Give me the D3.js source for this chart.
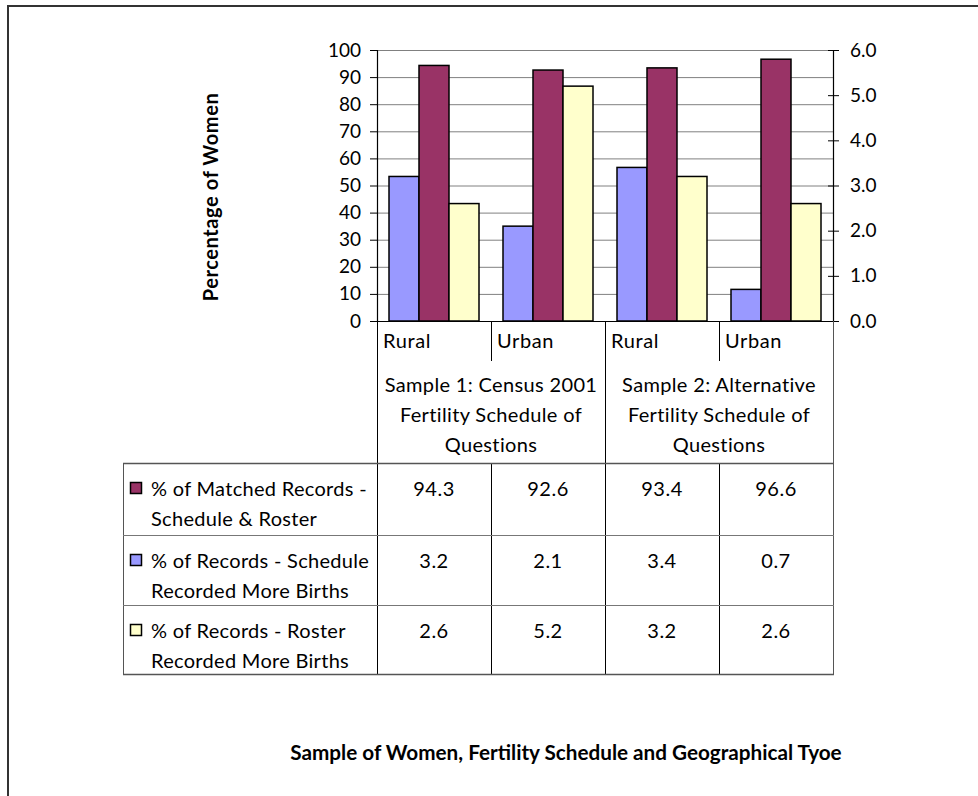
<!DOCTYPE html>
<html>
<head>
<meta charset="utf-8">
<script src="https://cdn.jsdelivr.net/npm/d3@7"></script>
<style>
  html, body { margin: 0; padding: 0; background: #fff; }
  svg { display: block; }
  text { font-family: Lato, "Open Sans", sans-serif; fill: #000; }
</style>
</head>
<body>
<svg id="chart" width="978" height="796"></svg>
<script>
// ---------- data ----------
const categories = ["Rural", "Urban", "Rural", "Urban"];
const groupLabels = [
  ["Sample 1: Census 2001", "Fertility Schedule of", "Questions"],
  ["Sample 2: Alternative", "Fertility Schedule of", "Questions"]
];
const matchedRecords = [94.3, 92.6, 93.4, 96.6];      // primary axis (%)
const scheduleMoreBirths = [3.2, 2.1, 3.4, 0.7];      // secondary axis
const rosterMoreBirths = [2.6, 5.2, 3.2, 2.6];        // secondary axis
const leftTicks = [0, 10, 20, 30, 40, 50, 60, 70, 80, 90, 100];
const rightTicks = [0, 1, 2, 3, 4, 5, 6];
const seriesNames = [
  ["% of Matched Records -", "Schedule & Roster"],
  ["% of Records - Schedule", "Recorded More Births"],
  ["% of Records - Roster", "Recorded More Births"]
];
const yTitle = "Percentage of Women";
const xTitle = "Sample of Women, Fertility Schedule and Geographical Tyoe";

// ---------- styles ----------
const colors = { matched: "#993366", schedule: "#9999FF", roster: "#FFFFCC" };

const svg = d3.select("#chart");

// outer frame
svg.append("rect").attr("x", 8).attr("y", 6).attr("width", 1100).attr("height", 1000)
  .attr("fill", "none").attr("stroke", "#333").attr("stroke-width", 2);

const plot = { left: 377, right: 833, top: 50, bottom: 321 };

const x = d3.scaleBand().domain(d3.range(categories.length))
  .range([plot.left, plot.right]).paddingInner(0).paddingOuter(0);
const xSub = d3.scaleBand().domain(["schedule", "matched", "roster"])
  .range([0, x.bandwidth()]).paddingInner(0).paddingOuter(0.4);
const yL = d3.scaleLinear().domain([0, 100]).range([plot.bottom, plot.top]);
const yR = d3.scaleLinear().domain([0, 6]).range([plot.bottom, plot.top]);

// gridlines
svg.append("g").selectAll("line").data(leftTicks.slice(1)).join("line")
  .attr("x1", plot.left).attr("x2", plot.right)
  .attr("y1", d => yL(d) + 0.5).attr("y2", d => yL(d) + 0.5)
  .attr("stroke", "#808080").attr("stroke-width", 1);

// bars
const bars = [];
categories.forEach((c, i) => {
  bars.push({ i, key: "schedule", y: yR(scheduleMoreBirths[i]) });
  bars.push({ i, key: "matched", y: yL(matchedRecords[i]) });
  bars.push({ i, key: "roster", y: yR(rosterMoreBirths[i]) });
});
svg.append("g").selectAll("rect").data(bars).join("rect")
  .attr("x", d => x(d.i) + xSub(d.key))
  .attr("width", xSub.bandwidth())
  .attr("y", d => d.y)
  .attr("height", d => plot.bottom - d.y)
  .attr("fill", d => colors[d.key])
  .attr("stroke", "#000").attr("stroke-width", 1.5);

// left axis
const axL = svg.append("g").attr("transform", `translate(${plot.left},0)`)
  .call(d3.axisLeft(yL).tickValues(leftTicks).tickSize(7).tickPadding(9).tickFormat(d3.format("d")));
axL.select(".domain").attr("stroke", "#000").attr("stroke-width", 1.2);
axL.selectAll(".tick line").attr("stroke", "#000");
axL.selectAll("text").attr("font-size", 19).attr("font-family", "Lato, sans-serif").attr("fill", "#000");

// right axis
const axR = svg.append("g").attr("transform", `translate(${plot.right},0)`)
  .call(d3.axisRight(yR).tickValues(rightTicks).tickSizeInner(6).tickSizeOuter(0).tickPadding(11).tickFormat(d3.format(".1f")));
axR.select(".domain").attr("stroke", "#000").attr("stroke-width", 1.2);
axR.selectAll(".tick line").attr("x1", -5).attr("stroke", "#000");
axR.selectAll("text").attr("font-size", 19).attr("font-family", "Lato, sans-serif").attr("fill", "#000");

// x baseline
svg.append("line").attr("x1", plot.left - 7).attr("x2", plot.right + 6)
  .attr("y1", plot.bottom + 0.5).attr("y2", plot.bottom + 0.5).attr("stroke", "#000").attr("stroke-width", 1.2);

// table geometry
const tbl = { left: 123, rows: [463, 535, 605, 674] };

// category labels
svg.append("g").selectAll("text").data(categories).join("text")
  .attr("x", (d, i) => x(i) + 6).attr("y", 348)
  .attr("font-size", 20).attr("letter-spacing", 0.6).text(d => d);

// category separators (short)
svg.append("g").selectAll("line").data([1, 3]).join("line")
  .attr("x1", d => x(d) + 0.5).attr("x2", d => x(d) + 0.5)
  .attr("y1", plot.bottom).attr("y2", 361).attr("stroke", "#000");

// group separators (full height)
svg.append("g").selectAll("line").data([0, 2]).join("line")
  .attr("x1", d => x(d) + 0.5).attr("x2", d => x(d) + 0.5)
  .attr("y1", plot.bottom).attr("y2", tbl.rows[3]).attr("stroke", "#000");
svg.append("line").attr("x1", plot.right + 0.5).attr("x2", plot.right + 0.5)
  .attr("y1", plot.bottom).attr("y2", tbl.rows[3]).attr("stroke", "#555");

// group labels
groupLabels.forEach((lines, g) => {
  const cx = x(g * 2) + x.bandwidth();
  svg.append("g").selectAll("text").data(lines).join("text")
    .attr("x", cx).attr("y", (d, k) => 392 + k * 30)
    .attr("text-anchor", "middle").attr("font-size", 20).attr("letter-spacing", 0.35).text(d => d);
});

// table: vertical column lines inside table
svg.append("g").selectAll("line").data([1, 3]).join("line")
  .attr("x1", d => x(d) + 0.5).attr("x2", d => x(d) + 0.5)
  .attr("y1", tbl.rows[0]).attr("y2", tbl.rows[3]).attr("stroke", "#000");
svg.append("line").attr("x1", tbl.left + 0.5).attr("x2", tbl.left + 0.5)
  .attr("y1", tbl.rows[0]).attr("y2", tbl.rows[3]).attr("stroke", "#555");

// table horizontal lines
svg.append("g").selectAll("line").data(tbl.rows).join("line")
  .attr("x1", tbl.left).attr("x2", plot.right + 1)
  .attr("y1", d => d + 0.5).attr("y2", d => d + 0.5)
  .attr("stroke", (d, i) => (i === 0 || i === 3) ? "#555" : "#777").attr("stroke-width", (d, i) => (i === 0 || i === 3) ? 1.5 : 1);

// table rows
const rowData = [
  { key: "matched", names: seriesNames[0], vals: matchedRecords },
  { key: "schedule", names: seriesNames[1], vals: scheduleMoreBirths },
  { key: "roster", names: seriesNames[2], vals: rosterMoreBirths }
];
rowData.forEach((r, ri) => {
  const top = tbl.rows[ri];
  svg.append("rect").attr("x", 130.5).attr("y", top + 19.5).attr("width", 11).attr("height", 11)
    .attr("fill", colors[r.key]).attr("stroke", "#000").attr("stroke-width", 1.5);
  svg.append("g").selectAll("text").data(r.names).join("text")
    .attr("x", 151).attr("y", (d, k) => top + 33 + k * 30)
    .attr("font-size", 20).attr("letter-spacing", 0.3).text(d => d);
  svg.append("g").selectAll("text").data(r.vals).join("text")
    .attr("x", (d, i) => x(i) + x.bandwidth() / 2).attr("y", top + 33)
    .attr("text-anchor", "middle").attr("font-size", 20).attr("letter-spacing", 0.5)
    .text(d => d3.format(".1f")(d));
});

// axis titles
svg.append("text").attr("transform", "translate(218,197) rotate(-90)")
  .attr("text-anchor", "middle").attr("font-size", 20).attr("font-weight", "bold")
  .attr("letter-spacing", 0.6).text(yTitle);
svg.append("text").attr("x", 566).attr("y", 760).attr("text-anchor", "middle")
  .attr("font-size", 20.7).attr("font-weight", "bold").text(xTitle);
</script>
</body>
</html>
